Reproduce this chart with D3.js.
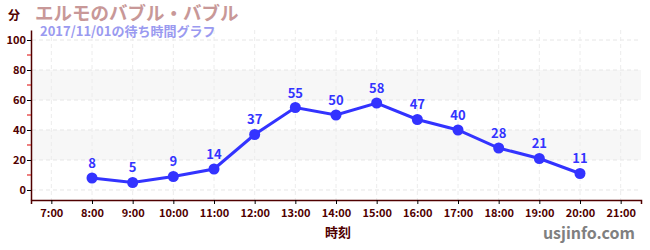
<!DOCTYPE html>
<html>
<head>
<meta charset="utf-8">
<script src="https://cdn.jsdelivr.net/npm/d3@7"></script>
<style>
  body { margin: 0; background: #fff; }
  text { font-family: "Noto Sans CJK JP", "DejaVu Sans", sans-serif; font-weight: bold; }
</style>
</head>
<body>
<div id="chart"></div>
<script>
var hours = [8, 9, 10, 11, 12, 13, 14, 15, 16, 17, 18, 19, 20];
var waits = [8, 5, 9, 14, 37, 55, 50, 58, 47, 40, 28, 21, 11];
var xTicks = [7, 8, 9, 10, 11, 12, 13, 14, 15, 16, 17, 18, 19, 20, 21];
var yTicks = [0, 20, 40, 60, 80, 100];
var yMinor = [10, 30, 50, 70, 90];
var bands = [[20, 40], [60, 80]];

var svgWidth = 650, svgHeight = 250;

var svg = d3.select("#chart")
    .append("svg")
    .attr("width", svgWidth)
    .attr("height", svgHeight);

var x = d3.scaleLinear().domain([6.5, 21.5]).range([31, 641]);
var y = d3.scaleLinear().domain([-6.67, 106.67]).range([200, 30]);

// grey bands
svg.selectAll("rect.band")
    .data(bands)
    .enter()
    .append("rect")
    .attr("x", 32)
    .attr("width", 609)
    .attr("y", d => y(d[1]))
    .attr("height", d => y(d[0]) - y(d[1]))
    .attr("fill", "#f7f7f7");

// grid lines
svg.selectAll("line.hgrid")
    .data(yTicks)
    .enter()
    .append("line")
    .attr("x1", 32).attr("x2", 641)
    .attr("y1", d => y(d)).attr("y2", d => y(d))
    .attr("stroke", "#e6e6e6")
    .attr("stroke-dasharray", "4,3");

svg.selectAll("line.vgrid")
    .data(xTicks)
    .enter()
    .append("line")
    .attr("x1", d => x(d)).attr("x2", d => x(d))
    .attr("y1", 30).attr("y2", 200)
    .attr("stroke", "#ececec")
    .attr("stroke-dasharray", "4,3");

// axes
var xAxis = d3.axisBottom(x)
    .tickValues(xTicks)
    .tickSize(4)
    .tickFormat(d => d + ":00");

var gx = svg.append("g")
    .attr("transform", "translate(0,200)")
    .call(xAxis);
gx.select(".domain").attr("stroke", "#500000").attr("stroke-width", 1.5);
gx.selectAll(".tick line").attr("stroke", "#000");
gx.selectAll(".tick text")
    .attr("fill", "#500000")
    .attr("font-size", "11px")
    .attr("dy", "0.95em");

var yAxis = d3.axisLeft(y)
    .tickValues(yTicks)
    .tickSize(4)
    .tickSizeOuter(0);

var gy = svg.append("g")
    .attr("transform", "translate(31,0)")
    .call(yAxis);
gy.select(".domain").attr("stroke", "#500000").attr("stroke-width", 1.5);
gy.selectAll(".tick line").attr("stroke", "#000");
gy.selectAll(".tick text")
    .attr("fill", "#500000")
    .attr("font-size", "11px")
    .attr("x", -5);

svg.selectAll("line.minor")
    .data(yMinor)
    .enter()
    .append("line")
    .attr("x1", 27).attr("x2", 31)
    .attr("y1", d => y(d)).attr("y2", d => y(d))
    .attr("stroke", "#dd0000");

// line + points
var line = d3.line()
    .x((d, i) => x(hours[i]))
    .y(d => y(d));

svg.append("path")
    .datum(waits)
    .attr("d", line)
    .attr("fill", "none")
    .attr("stroke", "#3333ff")
    .attr("stroke-width", 3);

svg.selectAll("circle")
    .data(waits)
    .enter()
    .append("circle")
    .attr("cx", (d, i) => x(hours[i]))
    .attr("cy", d => y(d))
    .attr("r", 5.5)
    .attr("fill", "#3333ff");

svg.selectAll("text.val")
    .data(waits)
    .enter()
    .append("text")
    .attr("class", "val")
    .attr("x", (d, i) => x(hours[i]))
    .attr("y", d => y(d) - 10)
    .attr("text-anchor", "middle")
    .attr("font-size", "13px")
    .attr("fill", "#3333ff")
    .text(d => d);

// titles
svg.append("text")
    .attr("x", 8).attr("y", 20)
    .attr("font-size", "12px")
    .attr("fill", "#500000")
    .text("分");

svg.append("text")
    .attr("x", 35).attr("y", 20)
    .attr("font-size", "18.5px")
    .attr("fill", "#c89898")
    .text("エルモのバブル・バブル");

svg.append("text")
    .attr("x", 40).attr("y", 36)
    .attr("font-size", "13px")
    .attr("fill", "#9a9af0")
    .text("2017/11/01の待ち時間グラフ");

svg.append("text")
    .attr("x", 338).attr("y", 237)
    .attr("text-anchor", "middle")
    .attr("font-size", "13px")
    .attr("fill", "#500000")
    .text("時刻");

svg.append("text")
    .attr("x", 635).attr("y", 239)
    .attr("text-anchor", "end")
    .attr("font-size", "16px")
    .attr("fill", "#808080")
    .text("usjinfo.com");
</script>
</body>
</html>
